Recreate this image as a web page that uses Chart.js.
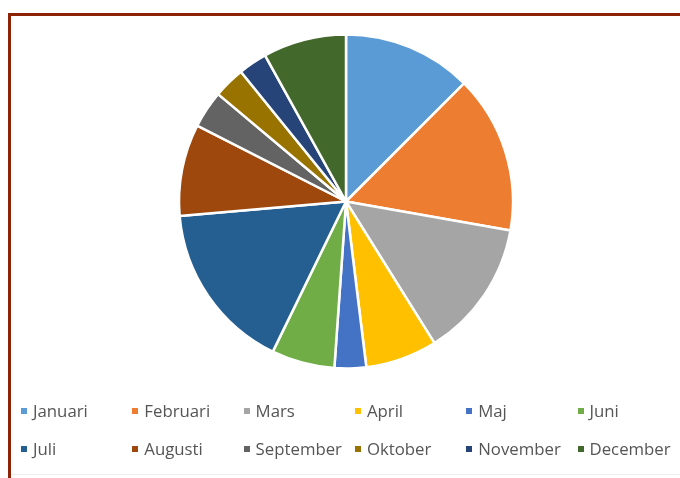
<!DOCTYPE html>
<html>
<head>
<meta charset="utf-8">
<script src="https://cdn.jsdelivr.net/npm/chart.js@4.4.0/dist/chart.umd.min.js"></script>
<style>
    html, body { margin: 0; padding: 0; background: #fff; }
    #wrap { position: relative; width: 680px; height: 478px; overflow: hidden; }
    #frame {
        position: absolute; left: 8px; top: 13px; width: 700px; height: 500px;
        border-left: 3px solid #8c2306; border-top: 3px solid #8c2306;
    }
    #bottomline { position: absolute; left: 11px; right: 0; top: 474px; height: 1px; background: #ececec; }
    #chart { position: absolute; left: 0; top: 0; }
    #legend {
        position: absolute; left: 21px; top: 400px;
        font-family: "Open Sans", sans-serif; font-size: 16.8px; color: #555555;
    }
    .item { position: absolute; white-space: nowrap; line-height: 22px; }
    .box { position: absolute; left: 0; top: 8px; width: 6px; height: 6px; }
    .txt { position: absolute; left: 12px; top: 0; }
</style>
</head>
<body>
<div id="wrap">
    <div id="frame"></div>
    <div id="bottomline"></div>
    <canvas id="chart" width="680" height="478"></canvas>
    <div id="legend"></div>
</div>
<script>
var manader = ["Januari", "Februari", "Mars", "April", "Maj", "Juni",
               "Juli", "Augusti", "September", "Oktober", "November", "December"];
var varden = [45, 55, 48, 25, 11, 22, 59, 32, 13, 11, 10, 29];
var farger = ["#5b9bd5", "#ed7d31", "#a5a5a5", "#ffc000", "#4472c4", "#70ad47",
              "#255e91", "#9e480e", "#636363", "#997300", "#264478", "#43682b"];

new Chart(document.getElementById("chart"), {
    type: 'pie',
    data: {
        labels: manader,
        datasets: [{
            data: varden,
            backgroundColor: farger,
            borderColor: '#ffffff',
            borderWidth: 2.5,
            hoverOffset: 0
        }]
    },
    options: {
        responsive: false,
        animation: false,
        radius: 167,
        layout: { padding: { left: 12, right: 0, top: 0, bottom: 75 } },
        plugins: {
            legend: { display: false },
            tooltip: { enabled: false }
        }
    }
});

// legend: 6 columns, 2 rows
var legend = document.getElementById("legend");
manader.forEach(function(namn, i) {
    var col = i % 6, row = Math.floor(i / 6);
    var el = document.createElement("div");
    el.className = "item";
    el.style.left = (col * 111.3) + "px";
    el.style.top = (row * 38) + "px";
    el.innerHTML = '<span class="box" style="background:' + farger[i] + '"></span>' +
                   '<span class="txt">' + namn + '</span>';
    legend.appendChild(el);
});
</script>
</body>
</html>
